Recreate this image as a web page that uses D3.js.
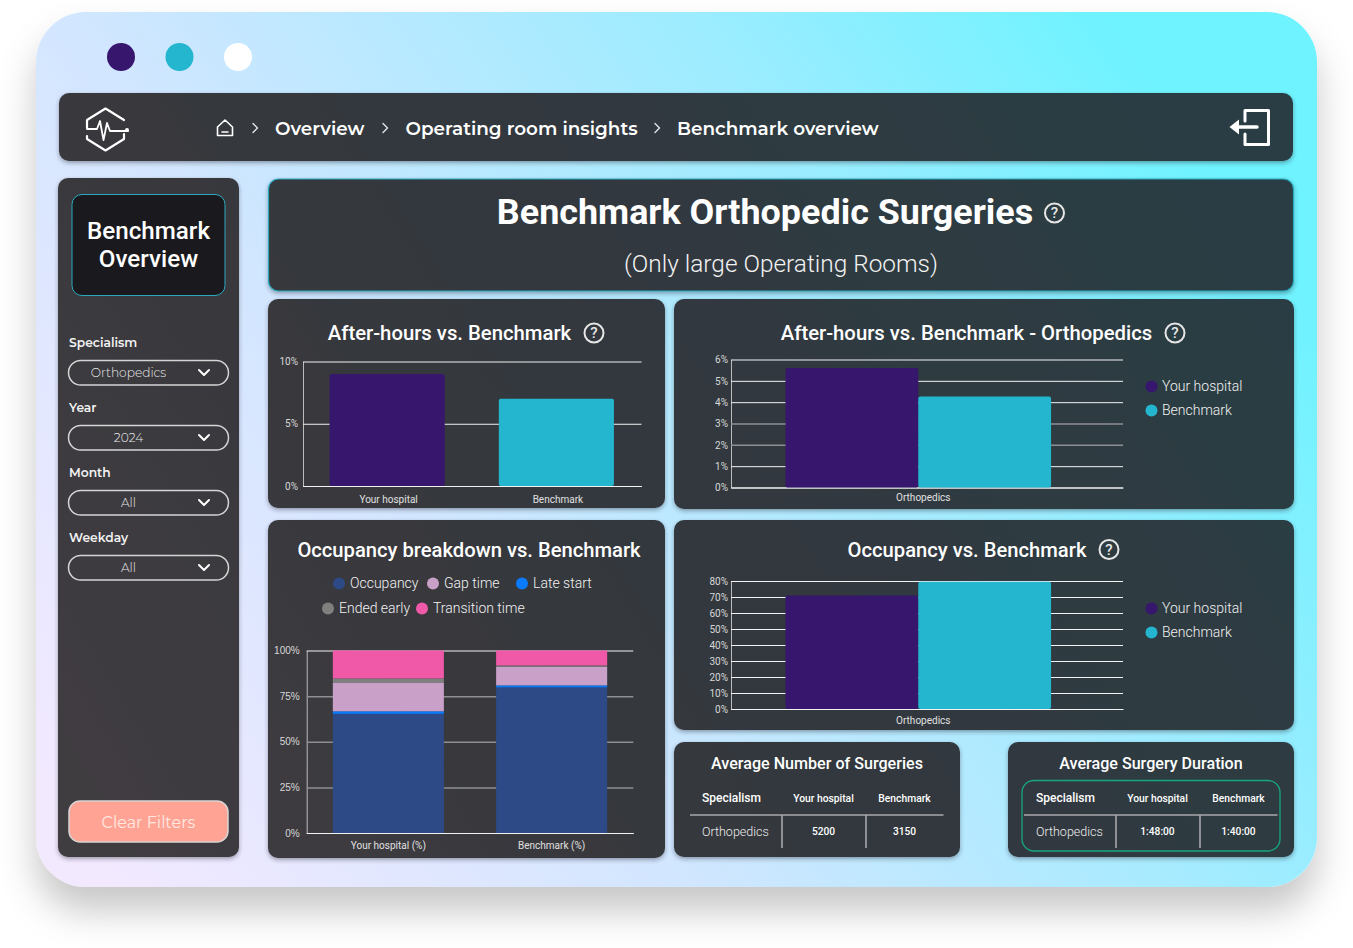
<!DOCTYPE html>
<html>
<head>
<meta charset="utf-8">
<style>
  body { margin: 0; background: #fff; }
  svg { display: block; }
  text { font-family: Roboto, sans-serif; }
</style>
<script src="https://cdn.jsdelivr.net/npm/d3@7"></script>
</head>
<body>
<script>
// Data
const crumbs = ["Overview", "Operating room insights", "Benchmark overview"];
const filterNames = ["Specialism", "Year", "Month", "Weekday"];
const filterValues = ["Orthopedics", "2024", "All", "All"];

const hospitals = ["Your hospital", "Benchmark"];
const afterHours = [9, 7];
const afterHoursTicks = [0, 5, 10];

const specialisms = ["Orthopedics"];
const afterHoursOrtho = [5.6, 4.27];
const afterHoursOrthoTicks = [0, 1, 2, 3, 4, 5, 6];
const occupancy = [71, 79.5];
const occupancyTicks = [0, 10, 20, 30, 40, 50, 60, 70, 80];

const stackCats = ["Your hospital (%)", "Benchmark (%)"];
const stackNames = ["Occupancy", "Late start", "Gap time", "Ended early", "Transition time"];
const occupancyPart = [65.3, 79.8];
const lateStartPart = [1.4, 1.1];
const gapTimePart = [15.5, 10.2];
const endedEarlyPart = [2.5, 0.7];
const transitionPart = [15.3, 8.2];
const stackTicks = [0, 25, 50, 75, 100];

const tableHead = ["Specialism", "Your hospital", "Benchmark"];
const surgeriesRow = ["Orthopedics", "5200", "3150"];
const durationRow = ["Orthopedics", "1:48:00", "1:40:00"];

const purple = "#37166e", teal = "#24b6cf";
const stackColors = ["#2d4a87", "#0a7bff", "#c8a0c8", "#808080", "#f058a8"];

const svg = d3.select("body").append("svg").attr("width", 1353).attr("height", 948);
const defs = svg.append("defs");

// Gradients and shadows
function linear(id, x1, y1, x2, y2, stops) {
  const g = defs.append("linearGradient").attr("id", id).attr("gradientUnits", "userSpaceOnUse")
    .attr("x1", x1).attr("y1", y1).attr("x2", x2).attr("y2", y2);
  stops.forEach(s => g.append("stop").attr("offset", s[0]).attr("stop-color", s[1]));
}
linear("win", 100, 887, 1280, 60, [[0, "#f3e9ff"], [0.33, "#d2e6ff"], [0.68, "#9decff"], [0.92, "#6ef3ff"]]);
linear("panel", 60, 850, 1290, 100, [[0, "#413c40"], [0.45, "#33373d"], [1, "#293e45"]]);

const big = defs.append("filter").attr("id", "bigShadow").attr("x", "-10%").attr("y", "-10%").attr("width", "120%").attr("height", "125%");
big.append("feDropShadow").attr("dx", 0).attr("dy", 24).attr("stdDeviation", 18).attr("flood-color", "#000").attr("flood-opacity", 0.22);
const small = defs.append("filter").attr("id", "panelShadow").attr("x", "-5%").attr("y", "-5%").attr("width", "110%").attr("height", "115%");
small.append("feDropShadow").attr("dx", 0).attr("dy", 2).attr("stdDeviation", 2).attr("flood-color", "#223").attr("flood-opacity", 0.4);

function box(x0, y0, x1, y1, r, fill, stroke, sw) {
  return svg.append("rect").attr("x", x0).attr("y", y0).attr("width", x1 - x0).attr("height", y1 - y0)
    .attr("rx", r).attr("fill", fill).attr("stroke", stroke || "none").attr("stroke-width", sw || 0);
}
function label(x, y, str, size, weight, color, anchor, family) {
  return svg.append("text").attr("x", x).attr("y", y).attr("dy", "0.35em").text(str)
    .attr("font-size", size).attr("font-weight", weight).attr("fill", color)
    .attr("text-anchor", anchor || "middle").style("font-family", family || null);
}
function icon(d, color, sw) {
  return svg.append("path").attr("d", d).attr("fill", "none").attr("stroke", color)
    .attr("stroke-width", sw).attr("stroke-linecap", "round").attr("stroke-linejoin", "round");
}
function help(x, y, r) {
  svg.append("circle").attr("cx", x).attr("cy", y).attr("r", r).attr("fill", "none").attr("stroke", "#e6e6e6").attr("stroke-width", 2);
  label(x, y, "?", r * 1.6, 500, "#e6e6e6");
}

// Window
box(36, 12, 1317, 887, 50, "url(#win)").attr("filter", "url(#bigShadow)");
[purple, teal, "#fff"].forEach((c, i) => svg.append("circle")
  .attr("cx", 121 + i * 58.5).attr("cy", 57).attr("r", 14).attr("fill", c));

// Panels
const panels = [
  [59, 93, 1293, 161], [58, 178, 239, 857], [268, 299, 665, 508], [674, 299, 1294, 509],
  [268, 520, 665, 858], [674, 520, 1294, 730], [674, 742, 960, 857], [1008, 742, 1294, 857]
];
panels.forEach(p => box(p[0], p[1], p[2], p[3], 10, "url(#panel)").attr("filter", "url(#panelShadow)"));
box(268.5, 179, 1293.5, 291, 10, "url(#panel)", "#2aa9bd", 1.2).attr("filter", "url(#panelShadow)");
box(72, 194.5, 225, 295.5, 10, "#1a1a1e", "#2aa9bd", 1);

// Header
const brand = "Montserrat, Inter, sans-serif";
icon("M124 120 L105.500 108.500 L87 120 V128 M87 136 V139 L105.500 150.500 L124 139 V134", "#fff", 2.2);
icon("M87 129 H97 L100 121 L103.500 140 L107 123 L110 131 H128", "#fff", 1.8);
svg.append("circle").attr("cx", 127).attr("cy", 130).attr("r", 2).attr("fill", "#fff");
icon("M217.500 127 L225 120 L232.500 127 V135.500 H217.500 Z M222 132 H228", "#fff", 1.6);
[255, 385, 657].forEach(x => icon(`M${x - 2} 123.500 L${x + 2.500} 128 L${x - 2} 132.500`, "#dfe5e8", 1.4));
[275, 405.5, 677].forEach((x, i) => label(x, 128.7, crumbs[i], 18.4, 600, "#fff", "start", brand));
icon("M1245 121 V110.500 H1268.500 V144.500 H1245 V134", "#fff", 3);
icon("M1257 127 H1236", "#fff", 3.4);
svg.append("path").attr("d", "M1229.500 127 L1239 119.500 V134.500 Z").attr("fill", "#fff");

// Sidebar
label(148.5, 231, "Benchmark", 24.2, 500, "#fff");
label(148.5, 259, "Overview", 24.2, 500, "#fff");
filterNames.forEach((name, i) => {
  const y = 342 + i * 65;
  label(69, y + 0.7, name, 12.3, 600, "#f2f2f2", "start", brand);
  box(68.5, y + 18.5, 228.5, y + 43, 12.2, "none", "#d5d5d5", 1.5);
  label(128.5, y + 30.5, filterValues[i], 12.2, 300, "#e8e8e8", "middle", brand);
  icon(`M199 ${y + 28} L204 ${y + 33} L209 ${y + 28}`, "#fff", 2);
});
box(69, 801, 228, 842, 11, "#ffa394", "#d9d4d4", 1.5);
label(148.5, 822, "Clear Filters", 16, 400, "#ffe9e2", "middle", brand);

// Title panel
label(765, 211.5, "Benchmark Orthopedic Surgeries", 35.9, 700, "#fff");
help(1054.5, 213, 9.5);
label(781, 263.7, "(Only large Operating Rooms)", 24.4, 300, "#f2f2f2");

// Axes shared by the charts
function drawAxes(b, y, x, ticks, opts) {
  const g = svg.append("g");
  const yAxis = g.append("g").attr("transform", `translate(${b.left},0)`)
    .call(d3.axisLeft(y).tickValues(ticks).tickFormat(d => d + "%")
      .tickSize(-(b.right - b.left)).tickSizeOuter(0).tickPadding(opts.yPad));
  yAxis.select(".domain").attr("stroke", "#bbb");
  yAxis.selectAll(".tick line").attr("stroke", d => opts.dim.includes(d) ? "#8e8f92" : "#f2f2f2")
    .attr("stroke-width", d => opts.dim.includes(d) ? 1.5 : 1);
  yAxis.selectAll("text").attr("fill", "#d8d8d8").attr("font-size", opts.size || 10)
    .style("font-family", opts.family || null);
  const xAxis = g.append("g").attr("transform", `translate(0,${b.bottom})`)
    .call(d3.axisBottom(x).tickSize(0).tickPadding(opts.xPad));
  xAxis.select(".domain").attr("stroke", "#f2f2f2");
  xAxis.selectAll("text").attr("fill", "#e0e0e0").attr("font-size", 10).attr("dx", opts.xShift || 0);
  return g;
}

// Simple bars, one per hospital
function barChart(b, values, ticks) {
  const x = d3.scaleBand().domain(hospitals).range([b.left, b.right]).paddingInner(0.32).paddingOuter(0.16);
  const y = d3.scaleLinear().domain([0, ticks[ticks.length - 1]]).range([b.bottom, b.top]);
  drawAxes(b, y, x, ticks, {dim: [], yPad: 5, xPad: 10, xShift: 1});
  svg.append("g").selectAll("rect").data(values).join("rect")
    .attr("x", (d, i) => x(hospitals[i]) - 0.5).attr("width", x.bandwidth())
    .attr("y", d => y(d)).attr("height", d => b.bottom - y(d)).attr("rx", 2)
    .attr("fill", (d, i) => i ? teal : purple);
}

// Grouped bars with one category and a legend
function groupedChart(b, values, ticks, dim, legendY, xPad) {
  const x0 = d3.scaleBand().domain(specialisms).range([b.left, b.right]).paddingOuter(0.238).align(0.431);
  const x1 = d3.scaleBand().domain(hospitals).range([0, x0.bandwidth()]);
  const y = d3.scaleLinear().domain([0, ticks[ticks.length - 1]]).range([b.bottom, b.top]);
  drawAxes(b, y, x0, ticks, {dim: dim, yPad: 3, xPad: xPad, xShift: 5});
  svg.append("g").attr("transform", `translate(${x0(specialisms[0])},0)`)
    .selectAll("rect").data(values).join("rect")
    .attr("x", (d, i) => x1(hospitals[i])).attr("width", x1.bandwidth())
    .attr("y", d => y(d)).attr("height", d => b.bottom - y(d)).attr("rx", 2)
    .attr("fill", (d, i) => i ? teal : purple);
  hospitals.forEach((h, i) => {
    svg.append("circle").attr("cx", 1151.5).attr("cy", legendY + i * 24).attr("r", 6).attr("fill", i ? teal : purple);
    label(1162, legendY + i * 24, h, 14, 300, "#f2f2f2", "start");
  });
}

barChart({left: 303, right: 641.5, top: 361.5, bottom: 486}, afterHours, afterHoursTicks);
groupedChart({left: 731, right: 1123, top: 359.5, bottom: 487.5}, afterHoursOrtho, afterHoursOrthoTicks, [2, 3], 386.5, 6);
groupedChart({left: 731, right: 1123, top: 581, bottom: 709}, occupancy, occupancyTicks, [], 608.5, 8);

// Stacked chart
const stackBox = {left: 306.7, right: 633.3, top: 650.5, bottom: 833};
const xStack = d3.scaleBand().domain(stackCats).range([stackBox.left, stackBox.right]).paddingInner(0.32).paddingOuter(0.16);
const yStack = d3.scaleLinear().domain([0, 100]).range([stackBox.bottom, stackBox.top]);
drawAxes(stackBox, yStack, xStack, stackTicks, {dim: [25, 50, 75], yPad: 7, xPad: 9, family: "Liberation Sans", size: 10});
const stackRows = stackCats.map((c, i) => ({
  cat: c,
  "Occupancy": occupancyPart[i], "Late start": lateStartPart[i], "Gap time": gapTimePart[i],
  "Ended early": endedEarlyPart[i], "Transition time": transitionPart[i]
}));
svg.append("g").selectAll("g").data(d3.stack().keys(stackNames)(stackRows)).join("g")
  .attr("fill", (d, i) => stackColors[i])
  .selectAll("rect").data(d => d).join("rect")
  .attr("x", d => xStack(d.data.cat)).attr("width", xStack.bandwidth())
  .attr("y", d => yStack(d[1])).attr("height", d => yStack(d[0]) - yStack(d[1]));

// Legend of the stacked chart
[["Occupancy", 339, 583.5], ["Gap time", 433, 583.5], ["Late start", 522, 583.5],
 ["Ended early", 328, 608.5], ["Transition time", 422, 608.5]].forEach(l => {
  svg.append("circle").attr("cx", l[1]).attr("cy", l[2]).attr("r", 6)
    .attr("fill", stackColors[stackNames.indexOf(l[0])]);
  label(l[1] + 11, l[2], l[0], 14, 300, "#f2f2f2", "start");
});

// Chart titles
label(449.5, 333, "After-hours vs. Benchmark", 20.3, 500, "#fff");
help(594, 333, 9.5);
label(966.5, 333, "After-hours vs. Benchmark - Orthopedics", 20.3, 500, "#fff");
help(1175, 333, 9.5);
label(469, 550, "Occupancy breakdown vs. Benchmark", 20.2, 500, "#fff");
label(967, 550, "Occupancy vs. Benchmark", 20.2, 500, "#fff");
help(1109, 549.5, 9.5);

// Small tables
function table(dx, title, row) {
  label(817 + dx, 763, title, 16.1, 500, "#fff");
  label(702 + dx, 798, tableHead[0], 12, 500, "#fff", "start");
  label(823.5 + dx, 798, tableHead[1], 10.3, 500, "#fff");
  label(904.5 + dx, 798, tableHead[2], 10.3, 500, "#fff");
  label(702 + dx, 831.5, row[0], 12.5, 300, "#eee", "start");
  label(823.5 + dx, 831.5, row[1], 10.2, 500, "#fff");
  label(904.5 + dx, 831.5, row[2], 10.2, 500, "#fff");
  icon(`M${690 + dx} 815 H${943.5 + dx}`, "#a8a8ac", 1.6).attr("stroke-linecap", "butt");
  [782, 866].forEach(x => icon(`M${x + dx} 815 V848`, "#a8a8ac", 1.6).attr("stroke-linecap", "butt"));
}
table(0, "Average Number of Surgeries", surgeriesRow);
table(334, "Average Surgery Duration", durationRow);
box(1022, 780.5, 1280, 851, 12, "none", "#17a67f", 1.3);
</script>
</body>
</html>
